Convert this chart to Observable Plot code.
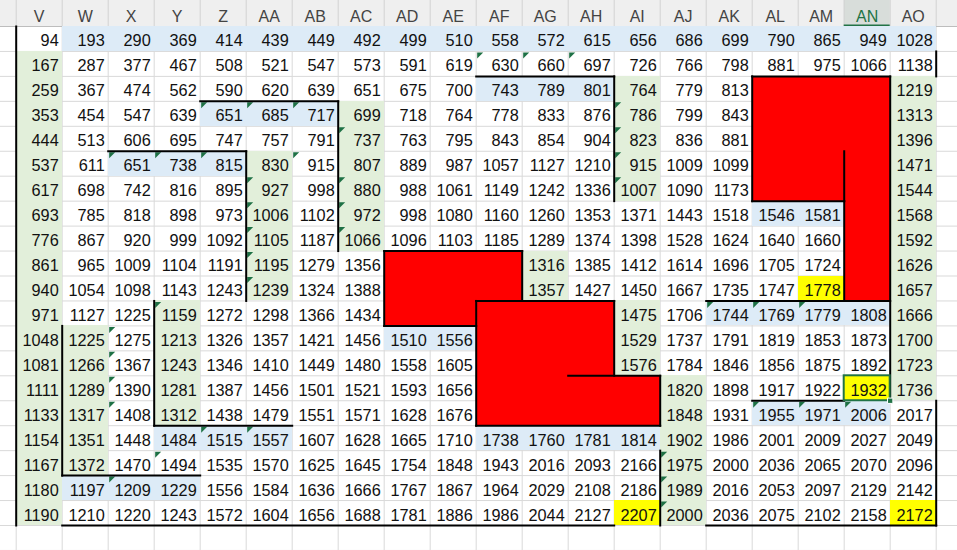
<!DOCTYPE html>
<html><head><meta charset="utf-8">
<script src="https://cdn.jsdelivr.net/npm/d3@7"></script>
<script src="https://cdn.jsdelivr.net/npm/@observablehq/plot@0.6"></script>
<style>body{margin:0;background:#fff;overflow:hidden}</style>
</head><body><div id="chart"></div>
<script>
// Column letters (spreadsheet columns V..AO)
const columns = ["V","W","X","Y","Z","AA","AB","AC","AD","AE","AF","AG","AH","AI","AJ","AK","AL","AM","AN","AO"];
const selectedColumn = "AN";

// Cell values row by row (null = red cell without value)
const rowValues = [
  [94,193,290,369,414,439,449,492,499,510,558,572,615,656,686,699,790,865,949,1028],
  [167,287,377,467,508,521,547,573,591,619,630,660,697,726,766,798,881,975,1066,1138],
  [259,367,474,562,590,620,639,651,675,700,743,789,801,764,779,813,null,null,null,1219],
  [353,454,547,639,651,685,717,699,718,764,778,833,876,786,799,843,null,null,null,1313],
  [444,513,606,695,747,757,791,737,763,795,843,854,904,823,836,881,null,null,null,1396],
  [537,611,651,738,815,830,915,807,889,987,1057,1127,1210,915,1009,1099,null,null,null,1471],
  [617,698,742,816,895,927,998,880,988,1061,1149,1242,1336,1007,1090,1173,null,null,null,1544],
  [693,785,818,898,973,1006,1102,972,998,1080,1160,1260,1353,1371,1443,1518,1546,1581,null,1568],
  [776,867,920,999,1092,1105,1187,1066,1096,1103,1185,1289,1374,1398,1528,1624,1640,1660,null,1592],
  [861,965,1009,1104,1191,1195,1279,1356,null,null,null,1316,1385,1412,1614,1696,1705,1724,null,1626],
  [940,1054,1098,1143,1243,1239,1324,1388,null,null,null,1357,1427,1450,1667,1735,1747,1778,null,1657],
  [971,1127,1225,1159,1272,1298,1366,1434,null,null,null,null,null,1475,1706,1744,1769,1779,1808,1666],
  [1048,1225,1275,1213,1326,1357,1421,1456,1510,1556,null,null,null,1529,1737,1791,1819,1853,1873,1700],
  [1081,1266,1367,1243,1346,1410,1449,1480,1558,1605,null,null,null,1576,1784,1846,1856,1875,1892,1723],
  [1111,1289,1390,1281,1387,1456,1501,1521,1593,1656,null,null,null,null,1820,1898,1917,1922,1932,1736],
  [1133,1317,1408,1312,1438,1479,1551,1571,1628,1676,null,null,null,null,1848,1931,1955,1971,2006,2017],
  [1154,1351,1448,1484,1515,1557,1607,1628,1665,1710,1738,1760,1781,1814,1902,1986,2001,2009,2027,2049],
  [1167,1372,1470,1494,1535,1570,1625,1645,1754,1848,1943,2016,2093,2166,1975,2000,2036,2065,2070,2096],
  [1180,1197,1209,1229,1556,1584,1636,1666,1767,1867,1964,2029,2108,2186,1989,2016,2053,2097,2129,2142],
  [1190,1210,1220,1243,1572,1604,1656,1688,1781,1886,1986,2044,2127,2207,2000,2036,2075,2102,2158,2172]
];

// Cell fill ranges
const blueRanges = ["W1:AO1","AF3:AH3","Z4:AB4","X6:Z6","AL8:AM8","AK12:AN12","AD13:AE13","AL16:AN16","Y17:AA17","AF17:AI17","W19:Y19"];
const greenRanges = ["V2:V20","AC4:AC9","AI3:AI7","AA6:AA11","AO3:AO15","AG10:AG11","AI12:AI14","Y12:Y16","W13:W18","AJ15:AJ20"];
const yellowRanges = ["AM11","AN15","AI20","AO20"];
const redRanges = ["AL3:AN7","AN8:AN11","AD10:AF11","AD12:AE12","AF12:AH16","AI15:AI16"];

// Cells with the small green corner marker
const markerCells = ["AF2","AG2","AH2","Z4","AA4","AB4","AI4","AC5","AI5","X6","Y6","Z6","AB6","AI6","AA7","AC7","AI7","AA8","AC8","AA9","AC9","AA10","AA11","Y12","AK12","AL12","AM12","X13","X14","X15","X16","AL16","AM16","AN16","Z17","AA17","Y18","AJ18","X19","AJ19","AJ20"];

// Cell borders: [range, side]
const borders = [
  ["V1:V20","left"],["Z4:AB4","top"],["AB4:AB9","right"],["X6:Z6","top"],["Z6:Z11","right"],
  ["AF3:AH3","top"],["AH3:AH7","right"],
  ["AL3:AN3","top"],["AL3:AL7","left"],["AL7:AM7","bottom"],["AM6:AM7","right"],["AN8:AN11","left"],
  ["AK11:AN11","bottom"],["AN3:AN15","right"],["AO2","right"],["AO16:AO20","right"],["AL15:AM15","bottom"],
  ["AD10:AF10","top"],["AD10:AD12","left"],["AF10:AF11","right"],["AD12:AE12","bottom"],
  ["AF12:AH12","top"],["AF12:AF16","left"],["AF16:AI16","bottom"],["AH12:AH14","right"],["AH15:AI15","top"],["AI15:AI16","right"],
  ["Y12:Y16","left"],["Y16:AA16","bottom"],["W13:W18","left"],["W18:Y18","bottom"],
  ["W20:AH20","bottom"],["AK20:AO20","bottom"],["AJ18:AJ20","left"]
];
const activeCell = "AN15";

// ---------- helpers ----------
function parseRef(ref) {
  const m = ref.match(/^([A-Z]+)(\d+)$/);
  return {c: columns.indexOf(m[1]), r: +m[2] - 1};
}
function parseRange(range) {
  const [a, b] = range.split(":");
  const p = parseRef(a), q = parseRef(b || a);
  return {c0: Math.min(p.c, q.c), c1: Math.max(p.c, q.c), r0: Math.min(p.r, q.r), r1: Math.max(p.r, q.r)};
}
function expand(ranges, fill) {
  const out = [];
  for (const rg of ranges) {
    const {c0, c1, r0, r1} = parseRange(rg);
    for (let c = c0; c <= c1; c++) for (let r = r0; r <= r1; r++) out.push({c, r, fill});
  }
  return out;
}
const fills = [
  ...expand(blueRanges, "#DDEBF7"),
  ...expand(greenRanges, "#E2EFDA"),
  ...expand(yellowRanges, "#FFFF00"),
  ...expand(redRanges, "#FF0000")
];
const redSet = new Set(expand(redRanges, "").map(d => d.c + "," + d.r));

const cells = [];
rowValues.forEach((row, r) => row.forEach((v, c) => {
  if (v != null && !redSet.has(c + "," + r)) cells.push({c, r, v});
}));

const segments = borders.map(([rg, side]) => {
  const {c0, c1, r0, r1} = parseRange(rg);
  if (side === "top") return {x1: c0, x2: c1 + 1, y1: r0, y2: r0};
  if (side === "bottom") return {x1: c0, x2: c1 + 1, y1: r1 + 1, y2: r1 + 1};
  if (side === "left") return {x1: c0, x2: c0, y1: r0, y2: r1 + 1};
  return {x1: c1 + 1, x2: c1 + 1, y1: r0, y2: r1 + 1};
});

const markers = markerCells.map(parseRef);

// ---------- geometry of the sheet view ----------
const W = 957, H = 550;
const colW = 46, leftEdge = 15.7;
const rowH = 24.95, topEdge = 26;
const xDom = [-leftEdge / colW, (W - leftEdge) / colW];
const yDom = [-topEdge / rowH, (H - topEdge) / rowH];

const colEdges = d3.range(0, columns.length + 2);
const rowEdges = d3.range(0, rowValues.length + 2);
const selIdx = columns.indexOf(selectedColumn);
const act = parseRef(activeCell);

const cornerTriangle = {
  draw(context, size) {
    const s = 6;
    context.moveTo(1, 1);
    context.lineTo(1 + s, 1);
    context.lineTo(1, 1 + s);
    context.closePath();
  }
};

const font = "'Liberation Sans', Arial, sans-serif";

const chart = Plot.plot({
  width: W, height: H,
  margin: 0,
  x: {type: "linear", domain: xDom, range: [0, W], axis: null},
  y: {type: "linear", domain: yDom, range: [0, H], axis: null},
  style: {background: "white", fontFamily: font},
  marks: [
    // gridlines
    Plot.ruleY(rowEdges, {y: d => d, x1: xDom[0], x2: xDom[1], stroke: "#D9D9D9", strokeWidth: 1}),
    Plot.ruleX(colEdges, {x: d => d, y1: 0, y2: yDom[1], stroke: "#D9D9D9", strokeWidth: 1}),
    // header band
    Plot.rect([0], {x1: xDom[0], x2: xDom[1], y1: yDom[0], y2: 0, fill: "#EFEFEF"}),
    Plot.rect([selIdx], {x1: d => d, x2: d => d + 1, y1: yDom[0], y2: 0, fill: "#D8DDDA"}),
    Plot.ruleX(colEdges, {x: d => d, y1: yDom[0], y2: 0, stroke: "#D2D2D2", strokeWidth: 1}),
    Plot.ruleY([0], {y: d => d, x1: xDom[0], x2: xDom[1], stroke: "#BDBDBD", strokeWidth: 1}),
    Plot.ruleY([0], {y: d => d, x1: selIdx, x2: selIdx + 1, stroke: "#217346", strokeWidth: 2, dy: -1}),
    Plot.text(columns, {
      x: (d, i) => i + 0.5, y: 0, text: d => d, lineAnchor: "bottom", dy: -5,
      fill: d => d === selectedColumn ? "#217346" : "#444444", fontSize: 16, fontFamily: font
    }),
    // cell fills
    Plot.rect(fills, {x1: d => d.c, x2: d => d.c + 1, y1: d => d.r, y2: d => d.r + 1, fill: d => d.fill, shapeRendering: "crispEdges"}),
    // green corner markers
    Plot.dot(markers, {x: d => d.c, y: d => d.r, symbol: cornerTriangle, fill: "#1E7145", stroke: "none", r: 3}),
    // values
    Plot.text(cells, {
      x: d => d.c + 1, y: d => d.r + 1, text: d => String(d.v), textAnchor: "end",
      lineAnchor: "bottom", dx: -3.5, dy: -5, fill: "#111111", fontSize: 16.3, fontFamily: font
    }),
    // borders
    Plot.link(segments, {x1: "x1", y1: "y1", x2: "x2", y2: "y2", stroke: "#000000", strokeWidth: 2, strokeLinecap: "square"}),
    // active cell selection
    Plot.rect([act], {x1: d => d.c, x2: d => d.c + 1, y1: d => d.r, y2: d => d.r + 1, fill: "none", stroke: "#217346", strokeWidth: 2}),
    Plot.dot([act], {x: d => d.c + 1, y: d => d.r + 1, symbol: "square", r: 3, fill: "#217346", stroke: "white", strokeWidth: 1})
  ]
});
document.getElementById("chart").appendChild(chart);
</script>
</body></html>
